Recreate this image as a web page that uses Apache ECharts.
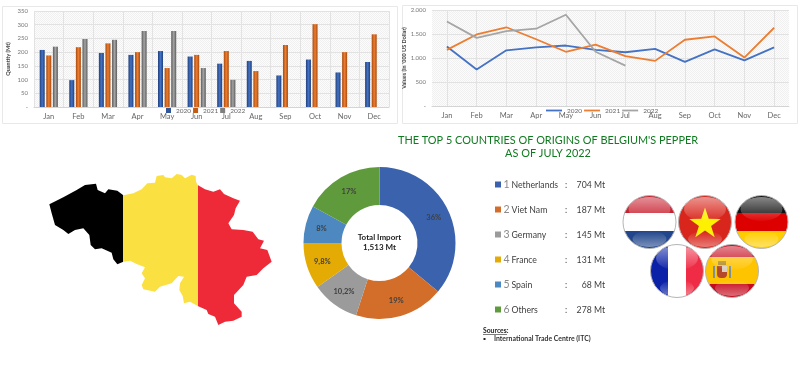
<!DOCTYPE html>
<html>
<head>
<meta charset="utf-8">
<style>
    html, body { margin: 0; padding: 0; background: #fff; }
    #main { width: 800px; height: 370px; }
</style>
<script src="https://cdn.jsdelivr.net/npm/echarts@6/dist/echarts.min.js"></script>
</head>
<body>
<div id="main"></div>
<script>
    const months = ['Jan', 'Feb', 'Mar', 'Apr', 'May', 'Jun', 'Jul', 'Aug', 'Sep', 'Oct', 'Nov', 'Dec']
    const years = ['2020', '2021', '2022']

    const quantity2020 = [208, 98, 197, 190, 204, 184, 158, 168, 115, 173, 126, 164]
    const quantity2021 = [188, 218, 232, 200, 142, 190, 204, 131, 226, 302, 200, 265]
    const quantity2022 = [220, 248, 245, 277, 277, 142, 99, null, null, null, null, null]

    const value2020 = [1240, 760, 1160, 1220, 1260, 1170, 1120, 1190, 920, 1180, 950, 1220]
    const value2021 = [1170, 1490, 1640, 1390, 1130, 1280, 1040, 940, 1380, 1450, 1010, 1630]
    const value2022 = [1760, 1420, 1560, 1610, 1900, 1130, 840, null, null, null, null, null]

    const originNames = ['Netherlands', 'Viet Nam', 'Germany', 'France', 'Spain', 'Others']
    const originTons = ['704 Mt', '187 Mt', '145 Mt', '131 Mt', '68 Mt', '278 Mt']
    const originShares = [36, 19, 10.2, 9.8, 8, 17]
    const originLabels = ['36%', '19%', '10,2%', '9,8%', '8%', '17%']
    const originColors = ['#3a62ad', '#d26e2a', '#9b9b9b', '#e3ab04', '#4d88c1', '#5f9a3c']

    // outline of the map illustration, in px
    const belgiumOutline = [
        [58, 103], [100, 82], [140, 60], [165, 45], [198, 41], [203, 60], [225, 70], [235, 58], [262, 62], [280, 76],
        [310, 70], [335, 58], [352, 40], [375, 38], [380, 18], [400, 15], [405, 22], [425, 25], [440, 12], [455, 15],
        [465, 25], [485, 14], [497, 18], [498, 35], [503, 45], [525, 58], [550, 65], [570, 58], [582, 72], [610, 85],
        [630, 92], [617, 115], [612, 135], [595, 160], [605, 178], [640, 180], [668, 185], [685, 208], [702, 212],
        [690, 235], [712, 240], [725, 275], [700, 295], [680, 315], [650, 320], [640, 345], [612, 375], [612, 400],
        [635, 425], [635, 440], [610, 452], [585, 455], [565, 465], [555, 440], [535, 432], [530, 420], [503, 408],
        [480, 395], [462, 400], [458, 378], [448, 360], [450, 340], [462, 320], [445, 318], [425, 340], [390, 350],
        [375, 365], [340, 358], [335, 345], [345, 325], [335, 310], [345, 292], [320, 282], [300, 272], [280, 275],
        [262, 283], [250, 268], [245, 248], [215, 235], [195, 238], [182, 225], [178, 195], [160, 175], [135, 180],
        [115, 192], [100, 180], [75, 165], [65, 130]
    ].map(p => [p[0] / 3 + 30, p[1] / 3 + 170])

    const font = 'Lato'

    function hatch () {
        const c = document.createElement('canvas')
        c.width = 2
        c.height = 2
        const ctx = c.getContext('2d')
        ctx.fillStyle = '#fcfcfc'
        ctx.fillRect(0, 0, 2, 2)
        ctx.fillStyle = '#f0f0f0'
        ctx.fillRect(0, 0, 1, 1)
        ctx.fillRect(1, 1, 1, 1)
        return { image: c, repeat: 'repeat' }
    }

    function barFill (edge, mid) {
        return {
            type: 'linear', x: 0, y: 0, x2: 1, y2: 0,
            colorStops: [
                { offset: 0, color: edge },
                { offset: 0.5, color: mid },
                { offset: 1, color: edge }
            ]
        }
    }

    // hard colour bands for the flags and the map
    function bands (colors, horizontal, stops) {
        const colorStops = []
        colors.forEach((color, i) => {
            colorStops.push({ offset: stops[i], color })
            colorStops.push({ offset: stops[i + 1], color })
        })
        return { type: 'linear', x: 0, y: 0, x2: horizontal ? 1 : 0, y2: horizontal ? 0 : 1, colorStops }
    }

    function flag (cx, cy, fill, extras) {
        const r = 26.5
        return [
            { type: 'circle', shape: { cx, cy, r }, style: { fill, stroke: '#b5b5b5', lineWidth: 1 }, z: 10 }
        ].concat(extras || [], [
            {
                type: 'ellipse', shape: { cx, cy: cy - 13, rx: 21, ry: 12 }, z: 12,
                style: {
                    fill: {
                        type: 'linear', x: 0, y: 0, x2: 0, y2: 1,
                        colorStops: [
                            { offset: 0, color: 'rgba(255,255,255,0.5)' },
                            { offset: 1, color: 'rgba(255,255,255,0.03)' }
                        ]
                    }
                }
            },
            {
                type: 'ellipse', shape: { cx, cy: cy + 17, rx: 17, ry: 8 }, z: 12,
                style: {
                    fill: {
                        type: 'linear', x: 0, y: 0, x2: 0, y2: 1,
                        colorStops: [
                            { offset: 0, color: 'rgba(255,255,255,0)' },
                            { offset: 1, color: 'rgba(255,255,255,0.4)' }
                        ]
                    }
                }
            }
        ])
    }

    function star (cx, cy, outer, inner) {
        const points = []
        for (let i = 0; i < 10; i++) {
            const r = i % 2 ? inner : outer
            const a = -Math.PI / 2 + i * Math.PI / 5
            points.push([cx + r * Math.cos(a), cy + r * Math.sin(a)])
        }
        return points
    }

    function text (x, y, str, extra) {
        return {
            type: 'text', x, y, z: 5,
            style: Object.assign({ text: str, font: '8.7px ' + font, fill: '#404040', textVerticalAlign: 'middle' }, extra)
        }
    }

    const originRows = []
    originNames.forEach((name, i) => {
        const y = 185 + i * 25
        originRows.push({ type: 'rect', shape: { x: 495, y: y - 3.5, width: 6, height: 6 }, style: { fill: originColors[i] } })
        originRows.push(text(503.5, y - 0.5, String(i + 1), { font: '10.5px ' + font, fill: '#8a8a8a' }))
        originRows.push(text(511.5, y, name, {}))
        originRows.push(text(566, y, ':', { textAlign: 'center' }))
        originRows.push(text(605, y, originTons[i], { textAlign: 'right' }))
    })

    const flags = [].concat(
        flag(649.5, 222, bands(['#c8202f', '#ffffff', '#21468b'], false, [0, 0.34, 0.66, 1])),
        flag(705, 222, '#d8261c', [
            { type: 'polygon', shape: { points: star(705, 224, 16.5, 6.4) }, style: { fill: '#fdf000' }, z: 11 }
        ]),
        flag(761.5, 222, bands(['#111111', '#dd0000', '#ffce00'], false, [0, 0.34, 0.67, 1])),
        flag(677, 271, bands(['#0b22a8', '#ffffff', '#ef2b45'], true, [0, 0.34, 0.66, 1])),
        flag(732, 271, bands(['#c60b1e', '#ffc400', '#c60b1e'], false, [0, 0.25, 0.75, 1]), [
            { type: 'rect', shape: { x: 717, y: 266, width: 10, height: 12, r: [0, 0, 4, 4] }, style: { fill: '#b5472a' }, z: 11 },
            { type: 'rect', shape: { x: 722, y: 266, width: 5, height: 6 }, style: { fill: '#d8d0c0' }, z: 11 },
            { type: 'rect', shape: { x: 718, y: 261, width: 8, height: 4 }, style: { fill: '#b08a20' }, z: 11 },
            { type: 'rect', shape: { x: 713, y: 266, width: 2, height: 12 }, style: { fill: '#7d8f99' }, z: 11 },
            { type: 'rect', shape: { x: 729, y: 266, width: 2, height: 12 }, style: { fill: '#7d8f99' }, z: 11 }
        ])
    )

    const graphics = [
        { type: 'rect', shape: { x: 2.5, y: 6.5, width: 395, height: 117 }, style: { fill: 'none', stroke: '#e8e8e8', lineWidth: 1 } },
        { type: 'rect', shape: { x: 402.5, y: 5.5, width: 395, height: 118 }, style: { fill: 'none', stroke: '#e8e8e8', lineWidth: 1 } },
        text(548, 140, "THE TOP 5 COUNTRIES OF ORIGINS OF BELGIUM'S PEPPER", { font: '10.9px ' + font, fill: '#0f7a1f', textAlign: 'center' }),
        text(548, 153.5, 'AS OF JULY 2022', { font: '10.9px ' + font, fill: '#0f7a1f', textAlign: 'center' }),
        {
            type: 'polygon', shape: { points: belgiumOutline },
            style: { fill: bands(['#000000', '#fbe042', '#ee2938'], true, [0, 0.333, 0.667, 1]) }
        },
        text(379.5, 237.5, 'Total Import', { font: 'bold 8px ' + font, fill: '#222', textAlign: 'center' }),
        text(379.5, 247.5, '1,513 Mt', { font: 'bold 8px ' + font, fill: '#222', textAlign: 'center' }),
        text(483, 331, 'Sources:', { font: 'bold 6.8px ' + font, fill: '#222' }),
        { type: 'rect', shape: { x: 483, y: 334, width: 24, height: 0.7 }, style: { fill: '#444' } },
        { type: 'rect', shape: { x: 483.5, y: 338, width: 2, height: 2 }, style: { fill: '#222' } },
        text(494, 339, 'International Trade Centre (ITC)', { font: 'bold 6.9px ' + font, fill: '#333' })
    ].concat(originRows, flags)

    function yearLegend (left, data, itemWidth, itemHeight, itemGap) {
        return {
            left, top: 107, itemWidth, itemHeight, itemGap, padding: 0, selectedMode: false,
            textStyle: { fontFamily: font, fontSize: 6.5, color: '#666' },
            data
        }
    }

    function categoryAxis (gridIndex, aligned) {
        return {
            type: 'category', gridIndex, data: months,
            axisLine: { lineStyle: { color: '#d4d4d4' } },
            axisTick: { show: false },
            axisLabel: { fontFamily: font, fontSize: 7.5, color: '#666', margin: 6, interval: 0 },
            splitLine: { show: true, alignWithLabel: aligned, lineStyle: { color: '#e2e2e2' } }
        }
    }

    function valueAxis (gridIndex, max, interval, name, format) {
        return {
            type: 'value', gridIndex, min: 0, max, interval, name,
            nameLocation: 'middle', nameGap: 23,
            nameTextStyle: { fontFamily: font, fontSize: 5.5, fontWeight: 'bold', color: '#444' },
            axisLine: { show: false },
            axisTick: { show: false },
            axisLabel: { fontFamily: font, fontSize: 6, color: '#777', margin: 6, formatter: format },
            splitLine: { lineStyle: { color: '#e2e2e2' } }
        }
    }

    function barSeries (name, data, edge, mid) {
        return {
            type: 'bar', name, data, xAxisIndex: 0, yAxisIndex: 0,
            barWidth: 5, barGap: '32%', itemStyle: { color: barFill(edge, mid) }, animation: false
        }
    }

    function lineSeries (name, data, color) {
        return {
            type: 'line', name, data, xAxisIndex: 1, yAxisIndex: 1, symbol: 'none',
            lineStyle: { color, width: 1.8 }, itemStyle: { color }, animation: false
        }
    }

    const barColors = ['#2f5597', '#c55a11', '#7f7f7f']
    const lineColors = ['#4472c4', '#ed7d31', '#a5a5a5']

    const option = {
        backgroundColor: '#fff',
        textStyle: { fontFamily: font },
        grid: [
            { left: 34, right: 411, top: 11, bottom: 263, show: true, borderWidth: 0, backgroundColor: hatch() },
            { left: 432, right: 11, top: 10, bottom: 264, show: true, borderWidth: 0, backgroundColor: hatch() }
        ],
        legend: [
            yearLegend(166, years.map((name, i) => ({ name, icon: 'rect', itemStyle: { color: barColors[i] } })), 5, 5, 2),
            yearLegend(546, years.map((name, i) => ({ name, icon: 'rect', itemStyle: { color: lineColors[i] } })), 16, 1.8, 2)
        ],
        xAxis: [categoryAxis(0, false), categoryAxis(1, true)],
        yAxis: [
            valueAxis(0, 350, 50, 'Quantity (Mt)', v => v === 0 ? '-' : String(v)),
            valueAxis(1, 2000, 500, "Values (In '000 US Dollar)", v => v === 0 ? '-' : v >= 1000 ? (v / 1000).toFixed(3) : String(v))
        ],
        graphic: { elements: graphics },
        series: [
            barSeries(years[0], quantity2020, '#1f3f7a', '#4472c4'),
            barSeries(years[1], quantity2021, '#a84a0c', '#ed7d31'),
            barSeries(years[2], quantity2022, '#5a5a5a', '#a5a5a5'),
            lineSeries(years[0], value2020, lineColors[0]),
            lineSeries(years[1], value2021, lineColors[1]),
            lineSeries(years[2], value2022, lineColors[2]),
            {
                type: 'pie', center: [379.5, 243], radius: [38, 76], startAngle: 90, animation: false,
                data: originNames.map((name, i) => ({ name, value: originShares[i], itemStyle: { color: originColors[i] } })),
                label: {
                    position: 'inside', fontFamily: font, fontSize: 7.5, color: '#404040', fontWeight: 'bold',
                    formatter: p => originLabels[p.dataIndex]
                },
                labelLine: { show: false },
                emphasis: { disabled: true }
            }
        ]
    }

    const chart = echarts.init(document.getElementById('main'))
    chart.setOption(option)
</script>
</body>
</html>
